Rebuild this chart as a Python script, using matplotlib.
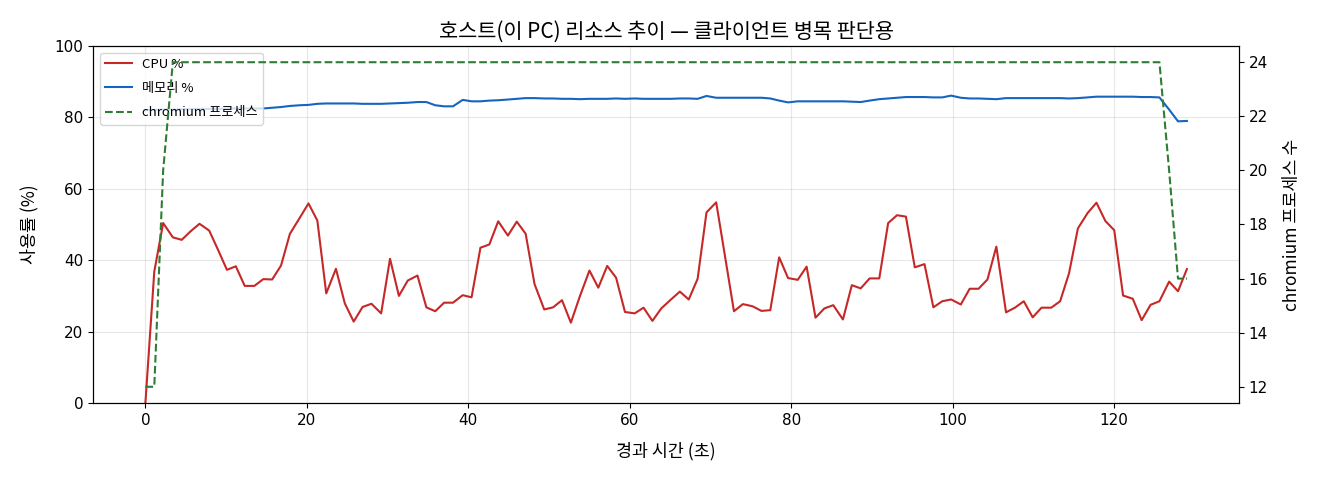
import matplotlib
matplotlib.use("Agg")
import matplotlib.pyplot as plt

plt.rcParams['font.family'] = ['Noto Sans CJK KR', 'DejaVu Sans']
plt.rcParams['axes.unicode_minus'] = False

# elapsed seconds of each sample
elapsed = [0.0, 1.1, 2.2, 3.4, 4.5, 5.6, 6.7, 7.9, 9.0, 10.1, 11.2, 12.3, 13.5, 14.6, 15.7,
           16.8, 17.9, 19.1, 20.2, 21.3, 22.4, 23.6, 24.7, 25.8, 26.9, 28.0, 29.2, 30.3, 31.4,
           32.5, 33.7, 34.8, 35.9, 37.0, 38.1, 39.3, 40.4, 41.5, 42.6, 43.7, 44.9, 46.0, 47.1,
           48.2, 49.4, 50.5, 51.6, 52.7, 53.8, 55.0, 56.1, 57.2, 58.3, 59.4, 60.6, 61.7, 62.8,
           63.9, 65.1, 66.2, 67.3, 68.4, 69.5, 70.7, 71.8, 72.9, 74.0, 75.2, 76.3, 77.4, 78.5,
           79.6, 80.8, 81.9, 83.0, 84.1, 85.2, 86.4, 87.5, 88.6, 89.7, 90.9, 92.0, 93.1, 94.2,
           95.3, 96.5, 97.6, 98.7, 99.8, 101.0, 102.1, 103.2, 104.3, 105.4, 106.6, 107.7, 108.8,
           109.9, 111.0, 112.2, 113.3, 114.4, 115.5, 116.7, 117.8, 118.9, 120.0, 121.1, 122.3,
           123.4, 124.5, 125.6, 126.8, 127.9, 129.0]

cpu = [0.0, 36.8, 50.4, 46.4, 45.7, 48.1, 50.2, 48.3, 42.9, 37.3, 38.3, 32.8, 32.8, 34.7, 34.6,
       38.5, 47.4, 51.8, 55.9, 51.1, 30.7, 37.6, 27.9, 22.8, 26.9, 27.8, 25.1, 40.4, 30.0, 34.3,
       35.7, 26.8, 25.7, 28.1, 28.1, 30.2, 29.6, 43.5, 44.4, 50.9, 46.9, 50.8, 47.4, 33.3, 26.2,
       26.8, 28.8, 22.5, 29.8, 37.1, 32.3, 38.4, 35.1, 25.5, 25.1, 26.7, 23.0, 26.5, 29.0, 31.2,
       29.0, 34.8, 53.4, 56.2, 41.0, 25.7, 27.7, 27.1, 25.8, 26.0, 40.8, 35.0, 34.5, 38.2, 23.9,
       26.5, 27.4, 23.4, 33.0, 32.1, 34.9, 34.9, 50.4, 52.6, 52.2, 38.0, 38.9, 26.8, 28.5, 29.0,
       27.6, 32.0, 32.0, 34.6, 43.8, 25.4, 26.7, 28.5, 24.0, 26.7, 26.7, 28.5, 36.3, 48.9, 53.2,
       56.1, 51.0, 48.4, 30.1, 29.2, 23.2, 27.5, 28.5, 34.0, 31.3, 37.5]

memory = [82.0, 82.1, 82.2, 82.2, 82.3, 82.3, 82.4, 82.4, 82.4, 82.5, 82.5, 82.5, 82.5, 82.5,
          82.7, 82.9, 83.2, 83.4, 83.5, 83.8, 83.9, 83.9, 83.9, 83.9, 83.8, 83.8, 83.8, 83.9,
          84.0, 84.1, 84.3, 84.3, 83.4, 83.1, 83.1, 84.9, 84.5, 84.5, 84.7, 84.8, 85.0, 85.2,
          85.4, 85.4, 85.3, 85.3, 85.2, 85.2, 85.1, 85.2, 85.2, 85.2, 85.3, 85.2, 85.3, 85.2,
          85.2, 85.2, 85.2, 85.3, 85.3, 85.2, 86.0, 85.5, 85.5, 85.5, 85.5, 85.5, 85.5, 85.3,
          84.7, 84.2, 84.5, 84.5, 84.5, 84.5, 84.5, 84.5, 84.4, 84.3, 84.7, 85.1, 85.3, 85.5,
          85.7, 85.7, 85.7, 85.6, 85.6, 86.1, 85.5, 85.3, 85.3, 85.2, 85.1, 85.4, 85.4, 85.4,
          85.4, 85.4, 85.4, 85.4, 85.3, 85.4, 85.6, 85.8, 85.8, 85.8, 85.8, 85.8, 85.7, 85.7,
          85.6, 82.2, 78.9, 79.0]

chromium = [12, 12, 20] + [24] * 110 + [20, 16, 16]

fig = plt.figure(figsize=(13.2, 4.8), dpi=100)
ax = fig.add_axes([0.0707, 0.1604, 0.8679, 0.7438])

ax.plot(elapsed, cpu, color='#c62828', lw=1.5, label='CPU %')
ax.plot(elapsed, memory, color='#1565c0', lw=1.5, label='메모리 %')
ax.set_ylim(0, 100)
ax.set_xlabel('경과 시간 (초)', fontsize=12.5, labelpad=10)
ax.set_ylabel('사용률 (%)', fontsize=12.5, labelpad=12)
ax.grid(True, alpha=0.3)

ax2 = ax.twinx()
ax2.plot(elapsed, chromium, color='#2e7d32', lw=1.5, ls='--', label='chromium 프로세스')
ax2.set_ylabel('chromium 프로세스 수', fontsize=12.5, labelpad=11)

for a in (ax, ax2):
    for lab in a.get_xticklabels() + a.get_yticklabels():
        lab.set_family('DejaVu Sans')
        lab.set_fontsize(11)

h1, l1 = ax.get_legend_handles_labels()
h2, l2 = ax2.get_legend_handles_labels()
ax.legend(h1 + h2, l1 + l2, loc='upper left', fontsize=9.5, labelspacing=0.85)

ax.set_title('호스트(이 PC) 리소스 추이 — 클라이언트 병목 판단용', fontsize=15, pad=6)

fig.savefig('out.png', dpi=100)
